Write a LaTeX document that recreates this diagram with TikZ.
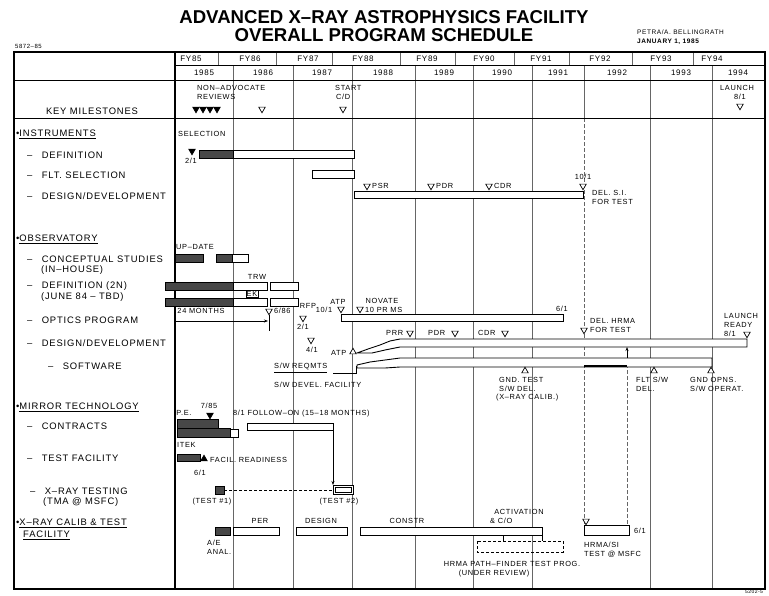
\documentclass[tikz,border=0pt]{standalone}
\usepackage{fontspec}
\setmainfont{Liberation Sans}
\newfontfamily\lsp[LetterSpace=9]{Liberation Sans}
\usetikzlibrary{shapes.geometric,arrows.meta}
\begin{document}
\begin{tikzpicture}[x=1pt,y=-1pt,
 lab/.style={font=\lsp\fontsize{9.4}{10}\selectfont, anchor=west, inner sep=0pt},
 ann/.style={font=\lsp\fontsize{7.4}{8}\selectfont, inner sep=0pt},
 annw/.style={ann, anchor=west},
 hdr/.style={font=\lsp\fontsize{8}{9}\selectfont, inner sep=0pt},
 wbar/.style={draw, line width=0.9pt, fill=white},
 dbar/.style={draw, line width=0.6pt, fill=black!72},
 gridv/.style={draw=black!60, line width=0.7pt},
 frm/.style={draw, line width=1.1pt},
 tdown/.style={regular polygon, regular polygon sides=3, shape border rotate=180, draw, line width=0.7pt, inner sep=0pt, minimum size=7.5pt, fill=white},
 tdownf/.style={tdown, fill=black},
 tup/.style={regular polygon, regular polygon sides=3, draw, line width=0.7pt, inner sep=0pt, minimum size=7.5pt, fill=white},
 tupf/.style={tup, fill=black},
 arr/.style={-{Stealth[length=4pt,width=3pt]}, line width=0.7pt}]
\useasboundingbox (0,0) rectangle (769,595);
\fill[white] (0,0) rectangle (769,595);

% ---------- title ----------
\node[font=\bfseries\fontsize{18.6}{20}\selectfont, inner sep=0pt] (t1) at (384,17) {ADVANCED X–RAY ASTROPHYSICS FACILITY};
\node[font=\bfseries\fontsize{18.6}{20}\selectfont, inner sep=0pt] (t2) at (384,35) {OVERALL PROGRAM SCHEDULE};
\node[ann, anchor=west, font=\lsp\fontsize{6}{7}\selectfont] (code) at (15,46) {5872–85};
\node[annw, font=\lsp\fontsize{6.5}{7}\selectfont] (auth) at (637,32) {PETRA/A. BELLINGRATH};
\node[annw, font=\lsp\bfseries\fontsize{6.5}{7}\selectfont] (date) at (637,42) {JANUARY 1, 1985};

% ---------- grid ----------
\foreach \x in {233,293,352,415,473,532,650,712} \draw[gridv] (\x,65) -- (\x,589);
\draw[gridv] (584,65) -- (584,118);
\draw[gridv, dashed, dash pattern=on 4pt off 2pt] (584,118) -- (584,525);
\draw[gridv, dashed, dash pattern=on 4pt off 2pt] (627,358) -- (627,525);
\foreach \x in {218,276,332,400,455,514,569,632,693} \draw[gridv] (\x,52) -- (\x,65);
\draw[frm] (14,52) rectangle (765,589);
\draw[frm] (175,52) -- (175,589);
\draw[line width=0.8pt] (175,65) -- (765,65);
\draw[line width=1pt] (14,80) -- (765,80);
\draw[line width=1pt] (14,118) -- (765,118);

% ---------- header text ----------
\foreach \fy/\x in {85/191,86/250,87/308,88/363,89/427,90/484,91/541,92/600,93/661,94/712}
  \node[hdr] (fy\fy) at (\x,59) {FY\fy};
\foreach \yr/\x in {1985/204,1986/263,1987/322,1988/383,1989/444,1990/502,1991/558,1992/617,1993/681,1994/738}
  \node[hdr] (y\yr) at (\x,73) {\yr};

% ---------- key milestones ----------
\node[lab, anchor=center] (km) at (92,111) {KEY MILESTONES};
\node[annw] (nar1) at (197,88) {NON–ADVOCATE};
\node[annw] (nar2) at (197,97) {REVIEWS};
\foreach \x [count=\i] in {196,203,210,217} \node[tdownf] (nr\i) at (\x,109) {};
\node[tdown] (nr5) at (262,109) {};
\node[annw] (st1) at (335,88) {START};
\node[annw] (st2) at (336,97) {C/D};
\node[tdown] (stm) at (343,109) {};
\node[ann] (la1) at (737,88) {LAUNCH};
\node[ann] (la2) at (740,97) {8/1};
\node[tdown] (lam) at (740,106) {};

% ---------- left labels ----------
\node[lab] (h1) at (16,134) {•\underline{INSTRUMENTS}};
\node[lab] (l1) at (27,155) {–\quad DEFINITION};
\node[lab] (l2) at (27,175) {–\quad FLT. SELECTION};
\node[lab] (l3) at (27,196) {–\quad DESIGN/DEVELOPMENT};
\node[lab] (h2) at (16,239) {•\underline{OBSERVATORY}};
\node[lab] (l4) at (27,259) {–\quad CONCEPTUAL STUDIES};
\node[lab] (l4b) at (41,270) {(IN–HOUSE)};
\node[lab] (l5) at (27,286) {–\quad DEFINITION (2N)};
\node[lab] (l5b) at (41,297) {(JUNE 84 – TBD)};
\node[lab] (l6) at (27,320) {–\quad OPTICS PROGRAM};
\node[lab] (l7) at (27,343) {–\quad DESIGN/DEVELOPMENT};
\node[lab] (l8) at (48,366) {–\quad SOFTWARE};
\node[lab] (h3) at (16,407) {•\underline{MIRROR TECHNOLOGY}};
\node[lab] (l9) at (27,426) {–\quad CONTRACTS};
\node[lab] (l10) at (27,458) {–\quad TEST FACILITY};
\node[lab] (l11) at (30,491) {–\quad X–RAY TESTING};
\node[lab] (l11b) at (43,502) {(TMA @ MSFC)};
\node[lab] (h4) at (16,523) {•\underline{X–RAY CALIB \& TEST}};
\node[lab] (h4b) at (23,535) {\underline{FACILITY}};

% ---------- instruments ----------
\node[annw] (sel) at (178,134) {SELECTION};
\node[tdownf] (im0) at (192,151) {};
\node[ann] (im0d) at (191,161) {2/1};
\draw[wbar] (199,150) rectangle (354,158);
\draw[dbar] (199,150) rectangle (233,158);
\draw[wbar] (312,170) rectangle (354,178);
\draw[wbar] (354,191) rectangle (583,198);
\node[tdown] (psr) at (367,186) {};
\node[annw] (psrl) at (372,186) {PSR};
\node[tdown] (pdr) at (431,186) {};
\node[annw] (pdrl) at (436,186) {PDR};
\node[tdown] (cdr) at (489,186) {};
\node[annw] (cdrl) at (494,186) {CDR};
\node[ann] (i101) at (583,177) {10/1};
\node[tdown] (i10) at (583,186) {};
\node[annw] (dsi1) at (592,193) {DEL. S.I.};
\node[annw] (dsi2) at (592,202) {FOR TEST};

% ---------- observatory ----------
\node[annw] (upd) at (176,247) {UP–DATE};
\draw[dbar] (175,254) rectangle (203,262);
\draw[wbar] (216,254) rectangle (248,262);
\draw[dbar] (216,254) rectangle (232,262);
\node[ann] (trw) at (257,277) {TRW};
\draw[wbar] (165,282) rectangle (267,290);
\draw[dbar] (165,282) rectangle (233,290);
\draw[wbar] (270,282) rectangle (298,290);
\node[ann, draw, line width=0.5pt, inner sep=0.8pt] (ek) at (252,294) {EK};
\draw[wbar] (165,298) rectangle (267,306);
\draw[dbar] (165,298) rectangle (233,306);
\draw[wbar] (270,298) rectangle (298,306);
\node[ann] (m24) at (201,311) {24 MONTHS};
\node[tdown] (m686) at (269,311) {};
\node[annw] (m686l) at (274,311) {6/86};
\coordinate (a24s) at (176,321);
\coordinate (a24e) at (268,321);
\draw[arr] (a24s) -- (a24e);
\draw[line width=0.7pt] (m686) -- (269,331);
\node[ann] (rfp) at (308,306) {RFP};
\node[tdown] (rfpm) at (303,318) {};
\node[ann] (rfpd) at (303,327) {2/1};
\node[tdown] (m41) at (311,340) {};
\node[ann] (m41d) at (312,350) {4/1};
\node[ann] (atp1) at (338,302) {ATP};
\node[ann] (atp1d) at (324,310) {10/1};
\node[tdown] (atp1m) at (341,309) {};
\node[ann] (nov) at (382,301) {NOVATE};
\node[tdown] (novm) at (360,309) {};
\node[annw] (novl) at (365,310) {10 PR MS};
\draw[wbar] (341,314) rectangle (563,321);
\node[ann] (op61) at (562,309) {6/1};
\node[tdown] (hrm) at (584,330) {};
\node[annw] (hrm1) at (590,321) {DEL. HRMA};
\node[annw] (hrm2) at (590,330) {FOR TEST};
\node[annw] (lr1) at (724,316) {LAUNCH};
\node[annw] (lr2) at (724,325) {READY};
\node[annw] (lr3) at (724,334) {8/1};
\node[tdown] (lrm) at (747,334) {};
% design/development bar
\draw[wbar] (357,353) -- (368,349) -- (380,345) -- (390,341) -- (400,339) -- (747,339) -- (747,347) -- (400,347) -- (385,350) -- (372,353) -- cycle;
\node[annw] (prrl) at (386,333) {PRR};
\node[tdown] (prr) at (410,333) {};
\node[annw] (pdr2l) at (428,333) {PDR};
\node[tdown] (pdr2) at (455,333) {};
\node[annw] (cdr2l) at (478,333) {CDR};
\node[tdown] (cdr2) at (505,333) {};
\node[annw] (atp2) at (331,353) {ATP};
\node[tup] (atp2m) at (353,352) {};
% software bar
\draw[wbar] (357,365) -- (370,362) -- (385,360) -- (400,358) -- (712,358) -- (712,367) -- (400,367) -- (385,368) -- (370,368) -- (357,368) -- cycle;
\draw[line width=2pt] (584,366) -- (627,366);
\coordinate (swu) at (627,358);
\coordinate (swt) at (627,347);
\draw[arr] (swu) -- (swt);
\node[annw] (swr) at (274,368) {\underline{S/W REQMTS}};
\draw[line width=0.7pt] (333,373) -- (356,373) -- (356,366);
\node[annw] (swf) at (274,385) {S/W DEVEL. FACILITY};
\node[tup] (gt) at (525,371) {};
\node[annw] (gt1) at (499,380) {GND. TEST};
\node[annw] (gt2) at (499,389) {S/W DEL.};
\node[annw] (gt3) at (496,398) {(X–RAY CALIB.)};
\node[tup] (fs) at (654,371) {};
\node[annw] (fs1) at (636,380) {FLT S/W};
\node[annw] (fs2) at (636,389) {DEL.};
\node[tup] (go) at (711,371) {};
\node[annw] (go1) at (690,380) {GND OPNS.};
\node[annw] (go2) at (690,389) {S/W OPERAT.};

% ---------- mirror technology ----------
\node[ann] (m785) at (209,406) {7/85};
\node[tdownf] (m785m) at (210,415) {};
\node[ann] (pe) at (184,413) {P.E.};
\draw[dbar] (177,419) rectangle (218,428);
\draw[dbar] (177,428) rectangle (230,437);
\draw[wbar, line width=0.6pt] (230,429) rectangle (238,437);
\node[annw] (itek) at (177,445) {ITEK};
\node[annw] (fol) at (233,414) {8/1 FOLLOW–ON (15–18 MONTHS)};
\draw[wbar] (247,423) rectangle (333,430);
\draw[dbar] (177,454) rectangle (200,461);
\node[tupf] (fr) at (204,459) {};
\node[annw] (frl) at (210,460) {FACIL. READINESS};
\node[ann] (frd) at (200,473) {6/1};
\draw[dbar] (215,486) rectangle (224,494);
\draw[wbar] (333,485) rectangle (353,494);
\draw[line width=0.5pt] (335,487) rectangle (351,492);
\coordinate (t1e) at (224,490);
\coordinate (t2s) at (333,490);
\draw[line width=1pt, dashed, dash pattern=on 3pt off 2pt] (t1e) -- (t2s);
\coordinate (fo1) at (333,430);
\coordinate (fo2) at (333,485);
\draw[arr] (fo1) -- (fo2);
\node[ann] (ts1) at (212,502) {(TEST \#1)};
\node[ann] (ts2) at (339,502) {(TEST \#2)};

% ---------- x-ray calib & test facility ----------
\draw[dbar] (215,527) rectangle (230,535);
\node[annw] (ae1) at (207,543) {A/E};
\node[annw] (ae2) at (207,552) {ANAL.};
\node[ann] (per) at (260,521) {PER};
\draw[wbar] (233,527) rectangle (279,535);
\node[ann] (des) at (321,521) {DESIGN};
\draw[wbar] (296,527) rectangle (347,535);
\node[ann] (con) at (407,521) {CONSTR};
\draw[wbar] (360,527) rectangle (542,535);
\node[ann] (act1) at (519,512) {ACTIVATION};
\node[annw] (act2) at (490,521) {\& C/O};
\draw[line width=0.8pt, dashed, dash pattern=on 3pt off 2pt] (477,541) rectangle (563,552);
\draw[line width=0.7pt] (503,535) -- (503,541);
\draw[line width=0.7pt] (542,535) -- (542,541);
\node[ann] (pf1) at (512,564) {HRMA PATH–FINDER TEST PROG.};
\node[ann] (pf2) at (494,574) {(UNDER REVIEW)};
\node[tdown] (hs) at (586,521) {};
\draw[wbar] (584,525) rectangle (629,535);
\node[annw] (hs61) at (634,531) {6/1};
\node[annw] (hs1) at (584,545) {HRMA/SI};
\node[annw] (hs2) at (584,554) {TEST @ MSFC};
\node[ann, font=\lsp\fontsize{5}{6}\selectfont] (pg) at (754,592) {5202-5};
\end{tikzpicture}
\end{document}
